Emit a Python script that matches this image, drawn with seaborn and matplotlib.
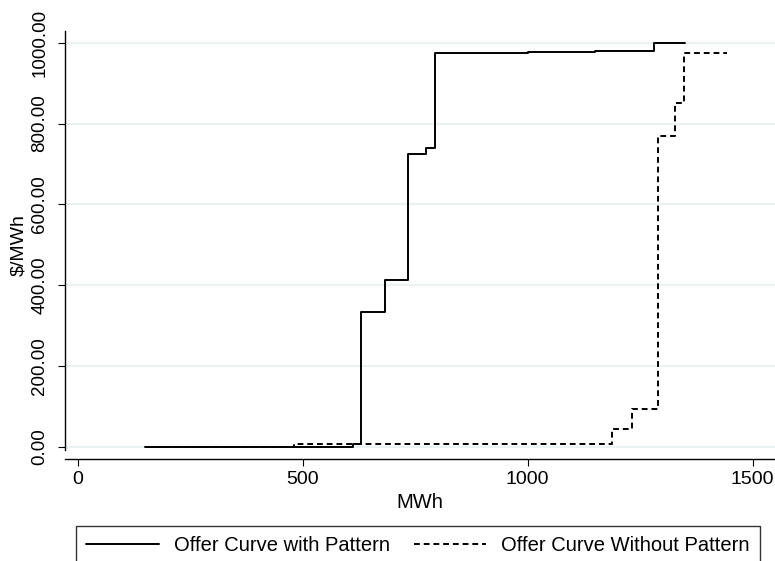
import pandas as pd
import seaborn as sns
import matplotlib.pyplot as plt
from matplotlib.ticker import FormatStrFormatter

sns.set_theme(style="white", rc={"text.color": "black", "axes.labelcolor": "black",
                                 "xtick.color": "black", "ytick.color": "black"})
plt.rcParams["font.family"] = ["Liberation Sans", "DejaVu Sans"]

# offer curves (MWh, $/MWh), step points
with_mwh = [150, 612, 629, 683, 734, 774, 794, 1000, 1150, 1280, 1350]
with_price = [0, 8, 333, 414, 724, 740, 974, 976, 979, 1000, 1000]
without_mwh = [150, 480, 629, 1187, 1232, 1291, 1328, 1348, 1443]
without_price = [0, 7, 8, 45, 93, 769, 850, 974, 974]

df_with = pd.DataFrame({"MWh": with_mwh, "price": with_price})
df_without = pd.DataFrame({"MWh": without_mwh, "price": without_price})

fig = plt.figure(figsize=(7.75, 5.61), dpi=100)
ax = fig.add_axes([65 / 775, 102 / 561, 710 / 775, 428 / 561])

sns.lineplot(data=df_without, x="MWh", y="price", estimator=None, sort=False,
             drawstyle="steps-post", color="black", lw=1.4, dashes=False,
             linestyle=(0, (3, 2)), ax=ax, legend=False)
sns.lineplot(data=df_with, x="MWh", y="price", estimator=None, sort=False,
             drawstyle="steps-post", color="black", lw=1.4, ax=ax, legend=False)

ax.set_xlim(-28, 1550)
ax.set_ylim(-30, 1029)
ax.set_xticks([0, 500, 1000, 1500])
ax.set_yticks([0, 200, 400, 600, 800, 1000])
ax.yaxis.set_major_formatter(FormatStrFormatter("%.2f"))
ax.yaxis.grid(True, color="#eaf2f3", lw=1.5)
ax.set_axisbelow(True)

for s in ["top", "right"]:
    ax.spines[s].set_visible(False)
ax.spines["left"].set_bounds(-8, 1029)
for s in ["left", "bottom"]:
    ax.spines[s].set_color("black")
    ax.spines[s].set_linewidth(1.0)

ax.tick_params(axis="both", which="both", direction="out", length=5, width=0.8,
               color="black", left=True, bottom=True)
ax.tick_params(axis="x", pad=4, labelsize=14)
ax.tick_params(axis="y", pad=7, labelsize=13.5)
for lab in ax.get_yticklabels():
    lab.set_rotation(90)
    lab.set_va("center")

ax.set_xlabel("MWh", fontsize=14.5, labelpad=3)
ax.set_ylabel("$/MWh", fontsize=14, labelpad=3)

handles = [ax.lines[1], ax.lines[0]]
leg = fig.legend(handles, ["Offer Curve with Pattern", "Offer Curve Without Pattern"],
                 loc="upper center", bbox_to_anchor=(418 / 775, 1 - 526 / 561),
                 ncol=2, fontsize=14.5, frameon=True, fancybox=False,
                 edgecolor="black", handlelength=3.6, handletextpad=0.75,
                 columnspacing=1.2, borderpad=0.5, borderaxespad=0)
leg.get_frame().set_linewidth(1.0)

fig.savefig("out.png", dpi=100)
